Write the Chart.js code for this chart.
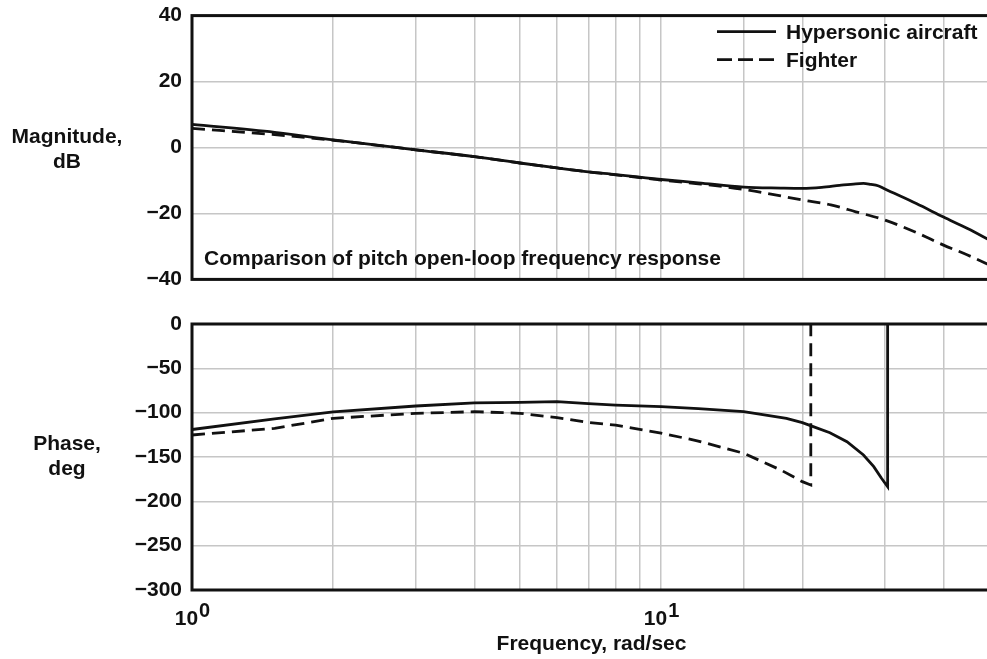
<!DOCTYPE html>
<html>
<head>
<meta charset="utf-8">
<script src="https://cdn.jsdelivr.net/npm/chart.js@4.4.1/dist/chart.umd.min.js"></script>
<style>
  html, body { margin: 0; padding: 0; background: #fff; overflow: hidden; }
  #wrap { position: relative; width: 987px; height: 659px; overflow: hidden; }
  canvas { position: absolute; left: 0; }
  #mag { top: -7px; }
  #phase { top: 300px; }
</style>
</head>
<body>
<div id="wrap">
  <canvas id="mag" width="1000" height="309"></canvas>
  <canvas id="phase" width="1000" height="359"></canvas>
</div>
<script>
const FONT = '"Liberation Sans", Arial, Helvetica, sans-serif';
const INK = '#111';
const GRID = '#c6c6c6';

const seriesNames = ['Hypersonic aircraft', 'Fighter'];

// magnitude, dB vs frequency, rad/sec
const magFreqHyper = [1, 1.5, 2, 3, 4, 5, 6, 7, 8, 9, 10, 12, 15, 18, 20, 22, 24, 26, 27, 28, 29, 30, 35, 40, 45, 50];
const magHyper = [7.0, 4.6, 2.3, -0.7, -2.8, -4.7, -6.2, -7.4, -8.2, -9.0, -9.7, -10.7, -12.0, -12.3, -12.4, -12.1, -11.5, -11.0, -10.9, -11.2, -11.6, -12.6, -17.0, -21.1, -24.6, -28.0];
const magFreqFighter = [1, 1.5, 2, 3, 4, 5, 6, 7, 8, 9, 10, 12, 15, 20, 23, 26, 30, 35, 40, 45, 50];
const magFighter = [5.8, 3.9, 2.2, -0.7, -2.8, -4.7, -6.2, -7.4, -8.3, -9.1, -9.9, -11.0, -12.7, -15.9, -17.4, -19.5, -22.0, -25.8, -29.6, -32.6, -35.6];

// phase, deg (wraps back to 0 at the end of each curve)
const phaseFreqHyper = [1, 1.5, 2, 3, 4, 5, 6, 7, 8, 10, 12, 15, 18.5, 20, 21.1, 22.9, 24.9, 27, 28.4, 29.5, 30.4, 30.4];
const phaseHyper = [-119, -107, -99, -92.5, -89, -88.3, -87.6, -89.8, -91.4, -93.2, -95.5, -98.9, -106.4, -111.3, -115.8, -122.6, -132.7, -147.7, -160.9, -174, -183.5, 0];
const phaseFreqFighter = [1, 1.5, 2, 3, 4, 5, 6, 7, 8, 10, 12, 15, 18, 20, 20.85, 20.85];
const phaseFighter = [-125.2, -117.7, -106.4, -100.7, -98.9, -100.7, -105.6, -111, -114, -123, -132, -145.8, -164.7, -177.8, -181.6, 0];

const decadeTicks = [1, 10];

const zip = (xs, ys) => xs.map((x, i) => ({ x: x, y: ys[i] }));
const minus = v => (v < 0 ? '\u2212' + Math.abs(v) : String(v));
const bold = size => 'bold ' + size + 'px ' + FONT;

function lineSet(label, pts, dashed, smooth) {
  return {
    label: label,
    data: pts,
    borderColor: INK,
    borderWidth: 2.8,
    borderDash: dashed ? [13, 7] : [],
    pointRadius: 0,
    fill: false,
    tension: 0,
    cubicInterpolationMode: smooth ? 'monotone' : 'default'
  };
}

// box round the plot area plus the free text of each panel
function decorations(opts) {
  return {
    id: 'decor',
    afterDraw(chart) {
      const ctx = chart.ctx;
      const a = chart.chartArea;
      ctx.save();
      ctx.strokeStyle = INK;
      ctx.lineWidth = 3;
      ctx.strokeRect(a.left, a.top, a.right - a.left, a.bottom - a.top);

      ctx.fillStyle = INK;
      ctx.font = bold(21);
      ctx.textAlign = 'center';
      ctx.textBaseline = 'alphabetic';
      opts.axisLabel.forEach((t, i) => ctx.fillText(t, 67, opts.axisLabelY[i]));

      if (opts.note) {
        ctx.textAlign = 'left';
        ctx.fillText(opts.note, 204, a.bottom - 14);
      }

      if (opts.legend) {
        chart.data.datasets.forEach((ds, i) => {
          const y = a.top + 16 + i * 28;
          ctx.beginPath();
          ctx.lineWidth = 2.8;
          ctx.setLineDash(ds.borderDash.length ? [15, 6] : []);
          ctx.moveTo(717, y);
          ctx.lineTo(776, y);
          ctx.stroke();
          ctx.setLineDash([]);
          ctx.textAlign = 'left';
          ctx.fillText(ds.label, 786, y + 7);
        });
      }

      if (opts.decades) {
        const xs = chart.scales.x;
        decadeTicks.forEach(v => {
          const exp = String(Math.round(Math.log10(v)));
          ctx.font = bold(21);
          const wBase = ctx.measureText('10').width;
          ctx.font = bold(20);
          const wExp = ctx.measureText(exp).width;
          const left = xs.getPixelForValue(v) - (wBase + wExp) / 2;
          ctx.textAlign = 'left';
          ctx.font = bold(21);
          ctx.fillText('10', left, a.bottom + 35);
          ctx.font = bold(20);
          ctx.fillText(exp, left + wBase + 1, a.bottom + 27);
        });
        ctx.font = bold(21);
        ctx.textAlign = 'center';
        ctx.fillText(opts.xTitle, (a.left + a.right) / 2 + 1, a.bottom + 60);
      }
      ctx.restore();
    }
  };
}

function panel(id, opts) {
  return new Chart(document.getElementById(id), {
    type: 'line',
    data: { datasets: opts.datasets },
    options: {
      responsive: false,
      animation: false,
      devicePixelRatio: 1,
      layout: { padding: opts.padding },
      plugins: { legend: { display: false }, tooltip: { enabled: false } },
      scales: {
        x: {
          type: 'logarithmic',
          min: 1,
          max: 50,
          border: { display: false },
          grid: { color: GRID, lineWidth: 1.5, drawTicks: false },
          ticks: { display: false },
          afterFit: s => { s.height = 0; }
        },
        y: {
          min: opts.yMin,
          max: opts.yMax,
          border: { display: false },
          grid: { color: GRID, lineWidth: 1.5, drawTicks: false },
          ticks: {
            stepSize: opts.step,
            padding: 10,
            color: INK,
            font: { family: FONT, size: 21, weight: 'bold' },
            callback: v => minus(v)
          },
          afterFit: s => { s.width = 192; }
        }
      }
    },
    plugins: [decorations(opts)]
  });
}

panel('mag', {
  yMin: -40, yMax: 40, step: 20,
  padding: { left: 0, top: 21, right: 11, bottom: 22 },
  axisLabel: ['Magnitude,', 'dB'],
  axisLabelY: [150, 175],
  note: 'Comparison of pitch open-loop frequency response',
  legend: true,
  datasets: [
    lineSet(seriesNames[0], zip(magFreqHyper, magHyper), false, true),
    lineSet(seriesNames[1], zip(magFreqFighter, magFighter), true, true)
  ]
});

panel('phase', {
  yMin: -300, yMax: 0, step: 50,
  padding: { left: 0, top: 24, right: 11, bottom: 69 },
  axisLabel: ['Phase,', 'deg'],
  axisLabelY: [150, 175],
  decades: true,
  xTitle: 'Frequency, rad/sec',
  datasets: [
    lineSet(seriesNames[0], zip(phaseFreqHyper, phaseHyper), false, false),
    lineSet(seriesNames[1], zip(phaseFreqFighter, phaseFighter), true, false)
  ]
});
</script>
</body>
</html>
